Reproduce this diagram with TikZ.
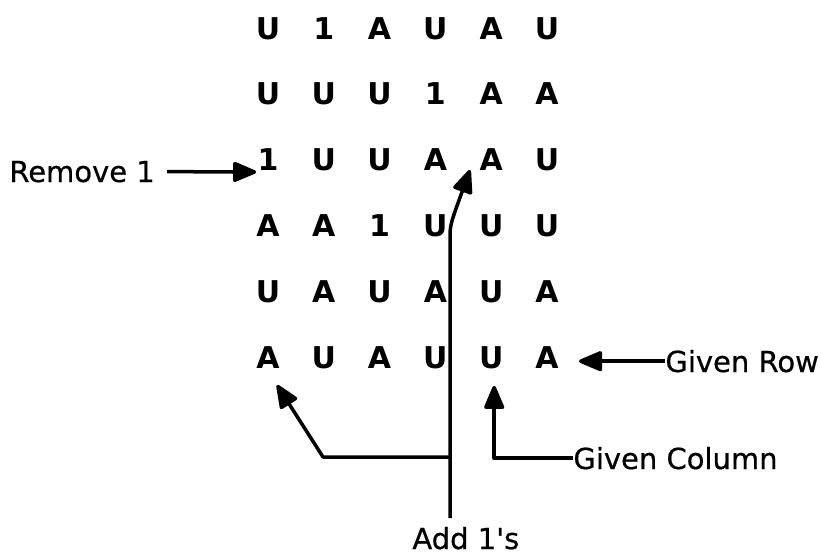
\documentclass[tikz,border=0pt]{standalone}
\usepackage{fontspec}
\newfontfamily\dvs{DejaVu Sans}
\newfontfamily\dvslabel{DejaVu Sans}[FakeBold=0.6]
\usetikzlibrary{arrows.meta}

\tikzset{
  cell/.style={anchor=base, inner sep=0pt, font=\dvs\bfseries\fontsize{15}{18}\selectfont},
  lbl/.style={inner sep=0pt, font=\dvslabel\fontsize{14.5}{17}\selectfont},
  link/.style={line width=1.75pt, line join=round},
  arr/.style={link, -{Triangle[length=13pt, width=10.5pt, round]}},
}

\begin{document}
\begin{tikzpicture}[x=0.5pt, y=-0.5pt]
  \useasboundingbox (0,0) rectangle (821,553);

  % the 6x6 grid of entries
  \foreach \row [count=\r] in {{U,1,A,U,A,U},{U,U,U,1,A,A},{1,U,U,A,A,U},
                               {A,A,1,U,U,U},{U,A,U,A,U,A},{A,U,A,U,U,A}} {
    \foreach \ch [count=\c] in \row {
      \node[cell] (g\r\c) at ({268+55.8*(\c-1)}, {39+65.8*(\r-1)}) {\ch};
    }
  }

  % labels
  \node[lbl, anchor=base west] (rem)  at (9,182) {Remove 1};
  \node[lbl, anchor=base west] (grow) at (665,372) {Given Row};
  \node[lbl, anchor=base west] (gcol) at (573,469) {Given Column};
  \node[lbl, anchor=base west] (add)  at (412,549) {Add 1's};

  % points on the "Add 1's" connectors
  \coordinate (stem)  at (450,518);
  \coordinate (junc)  at (450,457);
  \coordinate (knee)  at (323,457);
  \coordinate (bendA) at (450,240);
  \coordinate (tipA)  at (470,170);
  \coordinate (tipL)  at (277,385);

  % Remove 1
  \draw[arr] ([xshift=6pt]rem.east) -- ([xshift=-0.5pt, yshift=-0.5pt]g31.south west);

  % Given Row
  \draw[arr] (grow.west) -- ([xshift=10pt]grow.west -| g66.east);

  % Given Column
  \draw[arr] (gcol.west) -| ([xshift=1.5pt, yshift=-8.5pt]g65.south);

  % Add 1's
  \draw[arr] (stem) -- (junc) -- (bendA) .. controls (450,225) .. (tipA);
  \draw[arr] (junc) -- (knee) -- (tipL);
\end{tikzpicture}
\end{document}
